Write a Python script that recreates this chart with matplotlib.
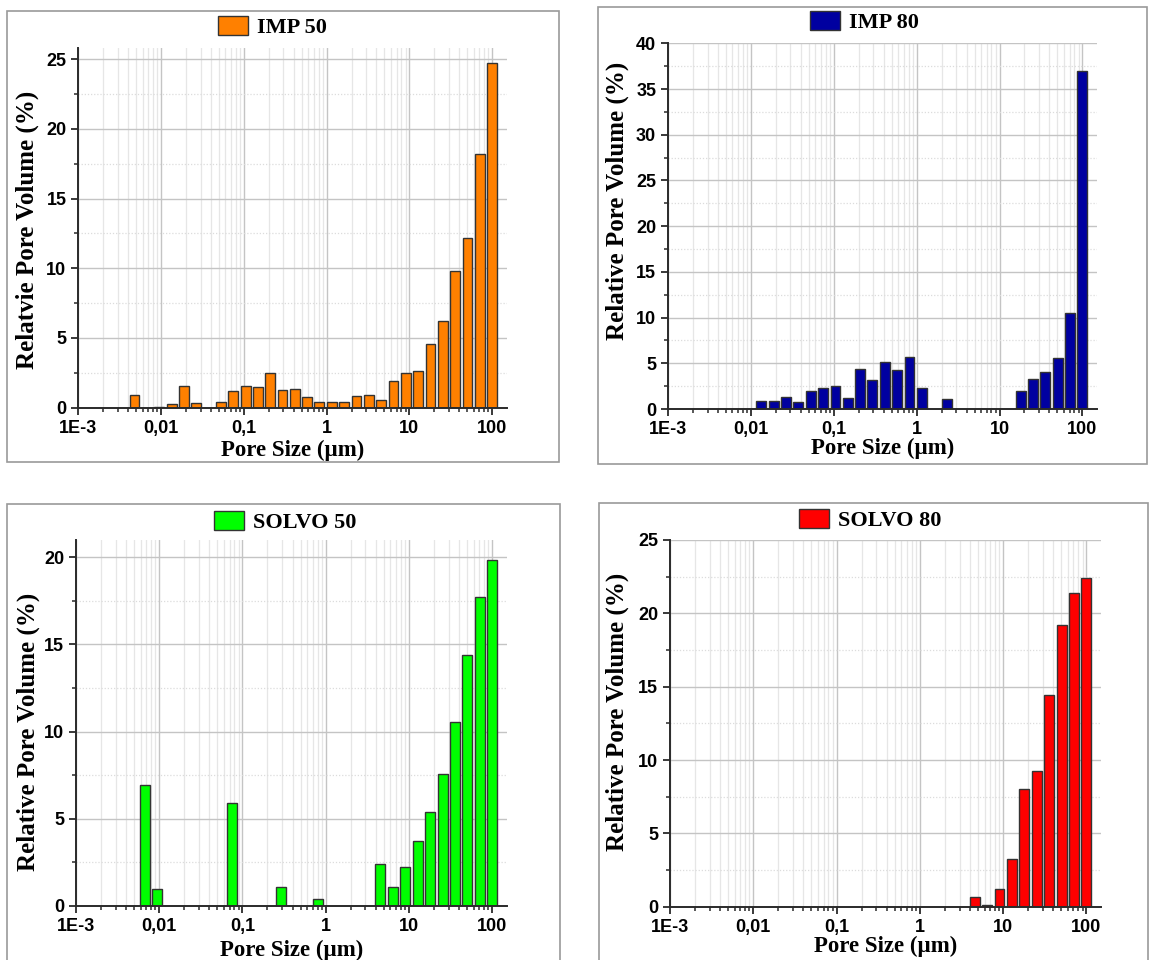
import numpy as np
import matplotlib
matplotlib.use("Agg")
import matplotlib.pyplot as plt
from matplotlib.patches import Patch, Rectangle
from matplotlib.ticker import FixedLocator, FixedFormatter, MultipleLocator, LogLocator, NullFormatter

# ---------------- data ----------------
# pore-size class centres (µm), from 100 µm downwards
pore_size = [100, 71.0, 50.4, 35.7, 25.4, 18.0, 12.8, 9.06, 6.43, 4.56,
             3.24, 2.30, 1.63, 1.16, 0.820, 0.582, 0.413, 0.293, 0.208, 0.148,
             0.105, 0.0743, 0.0527, 0.0374, 0.0266, 0.0188, 0.0134, 0.00948, 0.00673, 0.00478]

imp50 = [24.7, 18.2, 12.2, 9.8, 6.2, 4.57, 2.61, 2.49, 1.89, 0.55,
         0.91, 0.81, 0.41, 0.41, 0.41, 0.79, 1.34, 1.24, 2.49, 1.46,
         1.53, 1.20, 0.41, 0.0, 0.33, 1.53, 0.29, 0.03, 0.0, 0.89]

imp80 = [37.0, 10.5, 5.58, 4.01, 3.32, 1.93, 0.0, 0.0, 0.0, 0.0,
         0.0, 1.13, 0.0, 2.26, 5.66, 4.31, 5.15, 3.18, 4.42, 1.20,
         2.48, 2.30, 1.97, 0.73, 1.28, 0.91, 0.91, 0.0, 0.0, 0.0]

solvo50 = [19.85, 17.7, 14.4, 10.55, 7.54, 5.38, 3.69, 2.25, 1.10, 2.37,
           0.0, 0.0, 0.0, 0.0, 0.37, 0.0, 0.0, 1.10, 0.0, 0.0,
           0.0, 5.87, 0.0, 0.0, 0.0, 0.0, 0.0, 0.98, 6.94, 0.0]

solvo80 = [22.4, 21.4, 19.2, 14.4, 9.25, 8.0, 3.25, 1.23, 0.09, 0.68,
           0.0, 0.0, 0.0, 0.0, 0.0, 0.0, 0.0, 0.0, 0.0, 0.0,
           0.0, 0.0, 0.0, 0.0, 0.0, 0.0, 0.0, 0.0, 0.0, 0.0]

series_names = ["IMP 50", "IMP 80", "SOLVO 50", "SOLVO 80"]
series_values = [imp50, imp80, solvo50, solvo80]
series_colors = ["#FF8000", "#0000A0", "#00FF00", "#FF0000"]
y_labels = ["Relatvie Pore Volume (%)", "Relative Pore Volume (%)",
            "Relative Pore Volume (%)", "Relative Pore Volume (%)"]
x_label = "Pore Size (\u00b5m)"
x_tick_values = [1e-3, 1e-2, 1e-1, 1, 10, 100]
x_tick_labels = ["1E-3", "0,01", "0,1", "1", "10", "100"]
y_max = [25.8, 40, 21.0, 25]

# ---------------- layout ----------------
W, H = 1149, 960
fig = plt.figure(figsize=(W / 100, H / 100), dpi=100)

def px_rect(l, t, r, b):
    return [l / W, 1 - b / H, (r - l) / W, (b - t) / H]

axes_px = [(78.3, 48, 506.7, 407.7),
           (668, 43.3, 1097, 409),
           (76, 540, 506.7, 905.7),
           (670, 540, 1101, 906.7)]
frames_px = [(7, 11, 559, 462), (598, 7, 1147, 464),
             (7, 504, 560, 1000), (599, 503, 1148, 1000)]
legend_px = [(272, 27), (864, 22), (285, 522), (870, 520)]
ylabel_pos = [(-0.12, 0.494), (-0.119, 0.569), (-0.111, 0.475), (-0.123, 0.531)]
xlabel_pos = [(0.5, -0.12), (0.5, -0.109), (0.5, -0.121), (0.5, -0.107)]

for (l, t, r, b) in frames_px:
    fig.patches.append(Rectangle((l / W, 1 - b / H), (r - l) / W, (b - t) / H,
                                 transform=fig.transFigure, fill=False,
                                 edgecolor="#9a9a9a", linewidth=1.2))

tick_font = dict(family="Liberation Sans", weight="bold", size=13)
label_font = dict(family="Liberation Serif", weight="bold")

half_w = 0.06  # half bar width in decades
sizes = np.array(pore_size)
for i in range(4):
    ax = fig.add_axes(px_rect(*axes_px[i]))
    vals = np.array(series_values[i])
    mask = vals > 0
    c = sizes[mask]
    left = c * 10 ** (-half_w)
    width = c * (10 ** half_w - 10 ** (-half_w))
    ax.bar(left, vals[mask], width=width, align="edge",
           color=series_colors[i], edgecolor="#333333", linewidth=1.0, zorder=3)
    ax.set_xscale("log")
    ax.set_xlim(1e-3, 150)
    ax.set_ylim(0, y_max[i])

    ax.xaxis.set_major_locator(FixedLocator(x_tick_values))
    ax.xaxis.set_major_formatter(FixedFormatter(x_tick_labels))
    ax.xaxis.set_minor_locator(LogLocator(base=10, subs=np.arange(2, 10)))
    ax.xaxis.set_minor_formatter(NullFormatter())
    ax.yaxis.set_major_locator(MultipleLocator(5))
    ax.yaxis.set_minor_locator(MultipleLocator(2.5))

    for s in ["top", "right"]:
        ax.spines[s].set_visible(False)
    for s in ["left", "bottom"]:
        ax.spines[s].set_color("#2a2a2a")
        ax.spines[s].set_linewidth(1.4)
        ax.spines[s].set_zorder(4)

    ax.tick_params(which="major", direction="out", length=5, width=1.3,
                   color="#2a2a2a", pad=3.5)
    ax.tick_params(which="minor", direction="out", length=3, width=1.1,
                   color="#2a2a2a")
    for lab in ax.get_xticklabels() + ax.get_yticklabels():
        lab.set_fontfamily(tick_font["family"])
        lab.set_fontweight(tick_font["weight"])
        lab.set_fontsize(tick_font["size"])

    ax.set_axisbelow(True)
    ax.grid(which="major", axis="both", color="#c4c4c4", linewidth=1.0)
    ax.grid(which="minor", axis="x", color="#e6e6e6", linewidth=0.9)
    ax.grid(which="minor", axis="y", color="#dcdcdc", linewidth=0.9, linestyle=(0, (1, 1.5)))

    ax.set_ylabel(y_labels[i], fontsize=18, va="center", **label_font)
    ax.yaxis.set_label_coords(*ylabel_pos[i])
    ax.set_xlabel(x_label, fontsize=16.5, va="center", **label_font)
    ax.xaxis.set_label_coords(*xlabel_pos[i])

    lx, ly = legend_px[i]
    handle = Patch(facecolor=series_colors[i], edgecolor="#333333", linewidth=1.0)
    ax.legend([handle], [series_names[i]], loc="center",
              bbox_to_anchor=(lx / W, 1 - ly / H), bbox_transform=fig.transFigure,
              frameon=False, prop=dict(family="Liberation Serif", weight="bold", size=16),
              handlelength=1.35, handleheight=0.95, handletextpad=0.4,
              borderpad=0, borderaxespad=0)

fig.savefig("out.png", dpi=100, facecolor="white")
